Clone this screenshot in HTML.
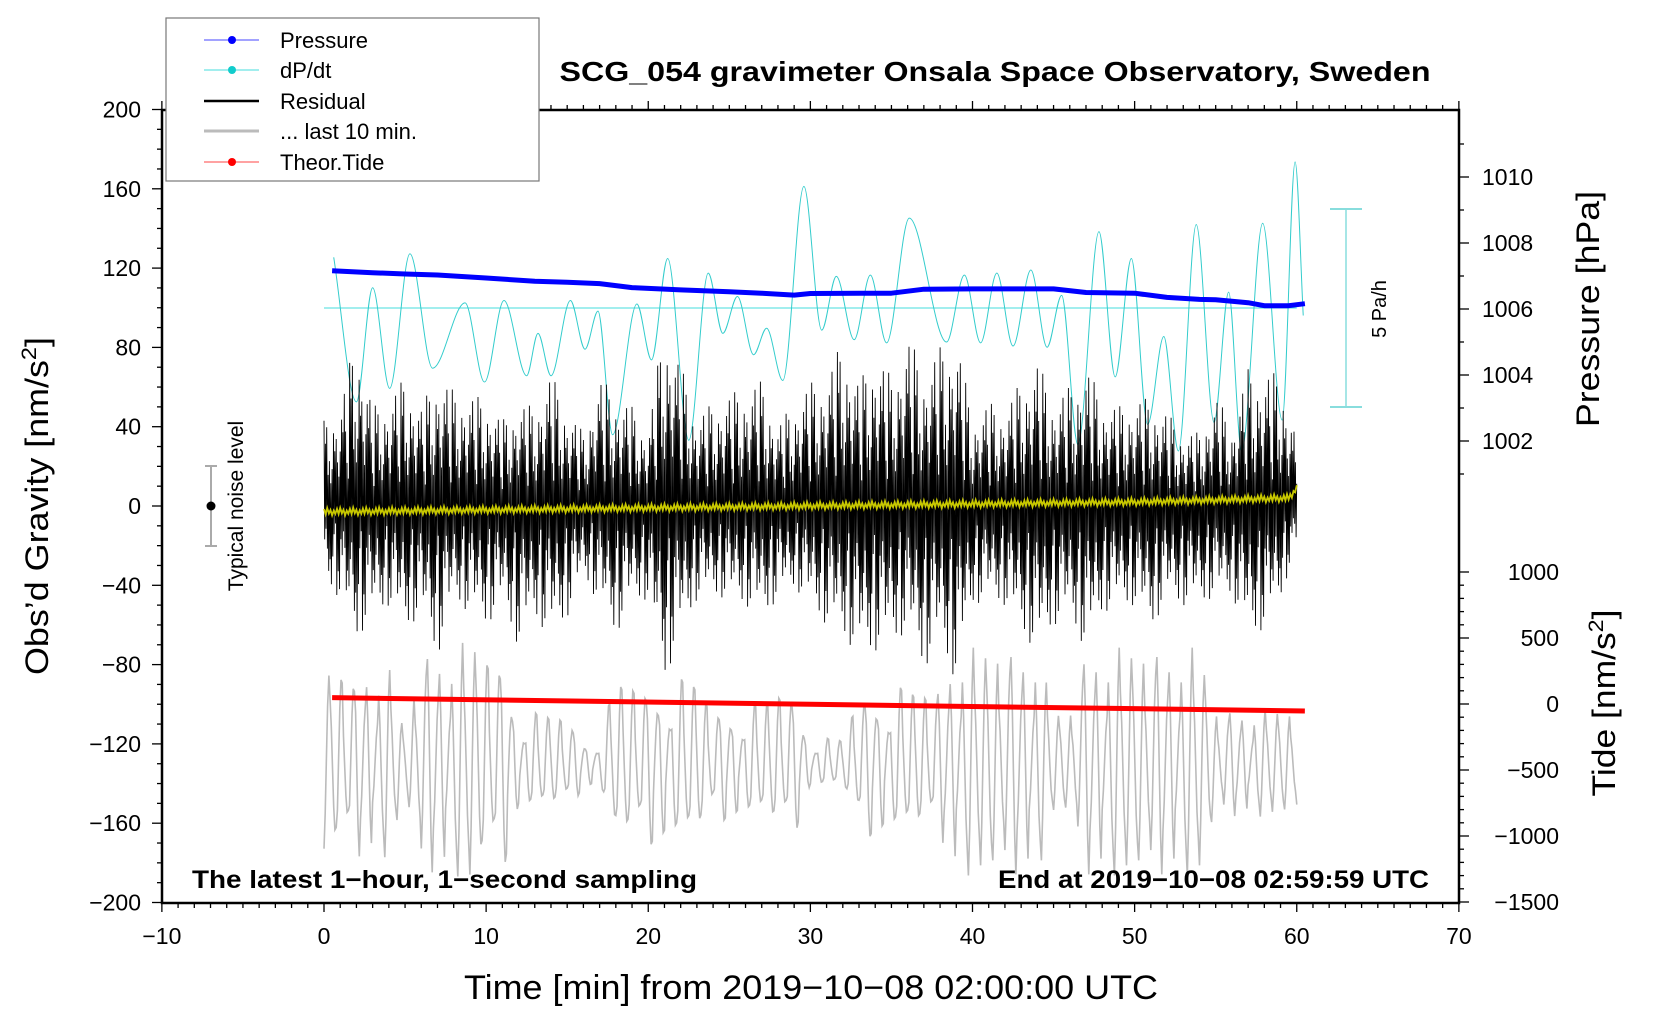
<!DOCTYPE html>
<html><head><meta charset="utf-8">
<style>
html,body{margin:0;padding:0;background:#fff;}
svg{display:block;font-family:"Liberation Sans",sans-serif;}
</style></head>
<body>
<svg id="chart" width="1660" height="1020" viewBox="0 0 1660 1020" xmlns="http://www.w3.org/2000/svg">
<rect width="1660" height="1020" fill="#fff"/>
<g id="marks"></g>
<g id="axes"></g>
<rect x="162" y="110" width="1297" height="793" fill="none" stroke="#000" stroke-width="2.5"/>
<text x="995" y="81" font-size="28" font-weight="bold" text-anchor="middle" textLength="871" lengthAdjust="spacingAndGlyphs">SCG_054 gravimeter Onsala Space Observatory, Sweden</text>
<text x="192" y="888" font-size="25" font-weight="bold" textLength="505" lengthAdjust="spacingAndGlyphs">The latest 1−hour, 1−second sampling</text>
<text x="1429" y="888" font-size="25" font-weight="bold" text-anchor="end" textLength="431" lengthAdjust="spacingAndGlyphs">End at 2019−10−08 02:59:59 UTC</text>
<text x="811" y="999" font-size="34" text-anchor="middle" textLength="694" lengthAdjust="spacingAndGlyphs">Time [min] from 2019−10−08 02:00:00 UTC</text>
<text transform="translate(48,506) rotate(-90)" font-size="32" text-anchor="middle" textLength="338" lengthAdjust="spacingAndGlyphs">Obs’d Gravity [nm/s<tspan dy="-12" font-size="21">2</tspan><tspan dy="12">]</tspan></text>
<text transform="translate(1599,309) rotate(-90)" font-size="32" text-anchor="middle" textLength="236" lengthAdjust="spacingAndGlyphs">Pressure [hPa]</text>
<text transform="translate(1615,703) rotate(-90)" font-size="32" text-anchor="middle" textLength="187" lengthAdjust="spacingAndGlyphs">Tide [nm/s<tspan dy="-12" font-size="21">2</tspan><tspan dy="12">]</tspan></text>
<g>
<line x1="211" y1="466" x2="211" y2="546" stroke="#aaa" stroke-width="2"/>
<line x1="205" y1="466" x2="217" y2="466" stroke="#aaa" stroke-width="2"/>
<line x1="205" y1="546" x2="217" y2="546" stroke="#aaa" stroke-width="2"/>
<circle cx="211" cy="506" r="4.5" fill="#000"/>
<text transform="translate(243,506) rotate(-90)" font-size="21" text-anchor="middle">Typical noise level</text>
</g>
<g>
<line x1="1346" y1="209" x2="1346" y2="407" stroke="#8dd" stroke-width="1.5"/>
<line x1="1330" y1="209" x2="1362" y2="209" stroke="#8dd" stroke-width="2"/>
<line x1="1330" y1="407" x2="1362" y2="407" stroke="#8dd" stroke-width="2"/>
<text transform="translate(1386,309) rotate(-90)" font-size="20" text-anchor="middle">5 Pa/h</text>
</g>
<g>
<rect x="166" y="18" width="373" height="163" fill="#fff" stroke="#777" stroke-width="1.2"/>
<g><line x1="204" y1="40" x2="259" y2="40" stroke="#44f" stroke-width="1"/><circle cx="232" cy="40" r="4" fill="#00f"/><text x="280" y="48" font-size="22">Pressure</text></g>
<g><line x1="204" y1="70" x2="259" y2="70" stroke="#4dd" stroke-width="1"/><circle cx="232" cy="70" r="4" fill="#1cc"/><text x="280" y="78" font-size="22">dP/dt</text></g>
<g><line x1="204" y1="101" x2="259" y2="101" stroke="#000" stroke-width="2.5"/><text x="280" y="109" font-size="22">Residual</text></g>
<g><line x1="204" y1="131" x2="259" y2="131" stroke="#bbb" stroke-width="3"/><text x="280" y="139" font-size="22">... last 10 min.</text></g>
<g><line x1="204" y1="162" x2="259" y2="162" stroke="#f44" stroke-width="1"/><circle cx="232" cy="162" r="4" fill="#f00"/><text x="280" y="170" font-size="22">Theor.Tide</text></g>
</g>
</svg>
<script>
// ---- data ----
const pressT = [0.5,3,5,7,10,13,15,17,19,22,25,27,29,30,33,35,37,40,45,47,50,52,54,55,57,58,59.5,60.5];
const pressV = [1007.16,1007.10,1007.06,1007.03,1006.94,1006.84,1006.81,1006.77,1006.65,1006.58,1006.52,1006.48,1006.42,1006.47,1006.48,1006.48,1006.60,1006.61,1006.61,1006.50,1006.48,1006.35,1006.29,1006.28,1006.19,1006.10,1006.10,1006.16];
const dpT = [0.6,2.0,3.0,4.05,5.3,6.7,8.7,9.9,11.1,12.5,13.2,14.0,15.2,16.1,16.9,17.8,19.3,20.2,21.2,22.5,23.7,24.6,25.5,26.5,27.3,28.3,29.6,30.7,31.6,32.7,33.7,34.7,36.1,38.4,39.5,40.5,41.5,42.5,43.6,44.6,45.5,46.5,47.8,48.8,49.8,50.8,51.8,52.7,53.8,54.9,55.8,56.6,57.9,59.1,59.9,60.4];
const dpV = [1.28,-2.37,0.51,-2.03,1.37,-1.52,0.13,-1.87,0.19,-1.71,-0.64,-1.71,0.19,-1.04,-0.08,-3.2,0.1,-1.31,1.25,-3.34,0.88,-0.64,0.29,-1.18,-0.51,-1.83,3.07,-0.56,0.8,-0.8,0.83,-0.88,2.27,-0.86,0.83,-0.88,0.88,-0.96,0.96,-0.99,0.32,-3.45,1.93,-1.74,1.25,-2.94,-0.72,-3.61,2.11,-2.89,0.4,-3.61,2.14,-2.83,3.69,-0.19];
const resHi = [43,50,88,50,54,65,50,67,58,56,54,43,52,50,67,49,37,65,56,50,37,95,71,45,52,56,60,63,41,52,62,65,84,62,78,65,86,69,80,86,45,52,49,63,73,54,60,71,54,50,54,54,47,37,37,56,41,69,67,67,34];
const resLo = [-37,-47,-67,-56,-50,-62,-55,-76,-47,-54,-60,-50,-71,-56,-67,-56,-35,-50,-65,-48,-47,-88,-65,-47,-45,-47,-50,-56,-47,-41,-50,-60,-65,-76,-73,-69,-63,-82,-69,-89,-50,-47,-50,-63,-74,-60,-56,-73,-54,-50,-50,-62,-47,-50,-50,-45,-45,-65,-62,-47,-19];
const grayAmp = [46,46,46,46,46,15,54,54,54,60,54,54,24,24,24,24,12,12,40,40,40,40,40,40,28,28,28,28,36,36,12,12,12,36,36,36,36,36,36,55,55,55,55,55,55,25,25,55,55,55,55,55,55,55,55,26,26,26,26,26,26];
const grayCenter = -130;
const yellowT = [0,5,10,15,20,25,30,35,40,45,50,55,59.5,60];
const yellowV = [-3,-2.5,-2,-1.5,-1,-0.5,0,0.5,1,1.5,2,3,4,9];
const tideT = [0.5,30,60.5];
const tideV = [48,-2,-53];
const xTicks = [-10,0,10,20,30,40,50,60,70];
const yTicks = [200,160,120,80,40,0,-40,-80,-120,-160,-200];
const pTicks = [1002,1004,1006,1008,1010];
const tideTicks = [1000,500,0,-500,-1000,-1500];

// ---- scales ----
const X = t => 324 + t*16.2125;
const Y = v => 506 - v*1.9825;
const P = h => 309 - (h-1006)*33;
const D = v => 308 - v*39.6;
const T = v => 704 - v*0.132;
const NS = "http://www.w3.org/2000/svg";
const marks = document.getElementById('marks');
const axes = document.getElementById('axes');
function mk(tag, attrs, parent){ const e=document.createElementNS(NS,tag); for(const k in attrs) e.setAttribute(k,attrs[k]); parent.appendChild(e); return e; }
function lin(xs, ys, x){ if(x<=xs[0]) return ys[0]; for(let i=1;i<xs.length;i++){ if(x<=xs[i]){ const f=(x-xs[i-1])/(xs[i]-xs[i-1]); return ys[i-1]+f*(ys[i]-ys[i-1]); } } return ys[ys.length-1]; }

// grey last-10-min trace
{
  const g=[1,0.75,0.95,0.55,0.85,1.05,0.65,0.9,0.45,0.8,1.1,0.7];
  let d=''; const step=0.75/10;
  for(let t=0;t<=60.0001;t+=step){ const a=lin(grayAmp.map((_,i)=>i),grayAmp,t); const cyc=Math.floor(t/0.375); const v=grayCenter+a*g[cyc%g.length]*Math.sin(2*Math.PI*t/0.75 - 1.2); d+=(d?'L':'M')+X(t).toFixed(1)+','+Y(v).toFixed(1); }
  const p=mk('path',{d:d,fill:'none',stroke:'#bbb','stroke-width':1.6},marks);
  
  
}
// theoretical tide
{
  let d=''; tideT.forEach((t,i)=>{ d+=(i?'L':'M')+X(t)+','+T(tideV[i]); });
  const p=mk('path',{d:d,fill:'none',stroke:'#f00','stroke-width':5},marks);
  
  
}
// dP/dt zero baseline
{
  const l=mk('line',{x1:X(0),x2:X(60),y1:D(0),y2:D(0),stroke:'#4dd','stroke-width':1},marks);
  
  
}
// dP/dt smooth curve
{
  const n=dpT.length, m=new Array(n).fill(0);
  const dl=[]; for(let i=0;i<n-1;i++) dl.push((dpV[i+1]-dpV[i])/(dpT[i+1]-dpT[i]));
  for(let i=1;i<n-1;i++){ m[i] = (dl[i-1]*dl[i]<=0)?0:(dl[i-1]+dl[i])/2; }
  m[0]=dl[0]; m[n-1]=dl[n-2];
  let d='M'+X(dpT[0])+','+D(dpV[0]);
  for(let i=0;i<n-1;i++){ const h=dpT[i+1]-dpT[i];
    d+='C'+X(dpT[i]+h/3)+','+D(dpV[i]+m[i]*h/3)+' '+X(dpT[i+1]-h/3)+','+D(dpV[i+1]-m[i+1]*h/3)+' '+X(dpT[i+1])+','+D(dpV[i+1]); }
  const p=mk('path',{d:d,fill:'none',stroke:'#3cc','stroke-width':1},marks);
  
  
}
// residual
{
  const f=[1,.45,.72,.3,.9,.55,.35,.82,.5,.66,.25,.95,.4,.6,.78,.33,.58,.2,.7];
  const mins=resHi.map((_,i)=>i); let d=''; let k=0; const per=24;
  for(let t=0;t<=60.0001;t+=1/per){ const hi=lin(mins,resHi,t), lo=lin(mins,resLo,t); const v=(k%2===0?hi:lo)*f[k%f.length]; d+=(d?'L':'M')+X(t).toFixed(1)+','+Y(v).toFixed(1); k++; }
  const p=mk('path',{d:d,fill:'none',stroke:'#000','stroke-width':0.9},marks);
  
  
}
// yellow smoothed residual
{
  const w=[1.5,-1.2,2,-0.8,1,-1.8,0.6,-1.1]; let d=''; let k=0;
  for(let t=0;t<=60.0001;t+=0.1){ const v=lin(yellowT,yellowV,t)+w[k%w.length]; d+=(d?'L':'M')+X(t).toFixed(1)+','+Y(v).toFixed(1); k++; }
  const p=mk('path',{d:d,fill:'none',stroke:'#c8c800','stroke-width':1.8},marks);
  
  
}
// pressure
{
  let d=''; pressT.forEach((t,i)=>{ d+=(i?'L':'M')+X(t).toFixed(1)+','+P(pressV[i]).toFixed(1); });
  const p=mk('path',{d:d,fill:'none',stroke:'#00f','stroke-width':5,'stroke-linejoin':'round'},marks);
  
  
}

// ---- axes ----
for(let t=-10;t<=70;t++){
  const major = t%10===0, x=X(t), L=major?9:5;
  mk('line',{x1:x,x2:x,y1:903,y2:903+L,stroke:'#000','stroke-width':1.3},axes);
  mk('line',{x1:x,x2:x,y1:110,y2:110-L,stroke:'#000','stroke-width':1.3},axes);
}
xTicks.forEach(t=>{
  const e=mk('text',{x:X(t),y:944,'font-size':23,'text-anchor':'middle'},axes);
  e.textContent=String(t).replace('-','−');
  
  
});
for(let v=-200;v<=200;v+=10){
  const major=v%40===0, y=Y(v);
  mk('line',{x1:162,x2:162-(major?10:5),y1:y,y2:y,stroke:'#000','stroke-width':1.3},axes);
}
yTicks.forEach(v=>{
  const e=mk('text',{x:141,y:Y(v)+8,'font-size':23,'text-anchor':'end'},axes);
  e.textContent=String(v).replace('-','−');
  
  
});
for(let h=1001;h<=1011;h++){
  const major=h%2===0, y=P(h);
  mk('line',{x1:1459,x2:1459+(major?10:5),y1:y,y2:y,stroke:'#000','stroke-width':1.3},axes);
}
pTicks.forEach(h=>{
  const e=mk('text',{x:1482,y:P(h)+8,'font-size':23},axes);
  e.textContent=String(h);
  
  
});
for(let v=-1500;v<=1000;v+=100){
  const major=v%500===0, y=T(v);
  mk('line',{x1:1459,x2:1459+(major?10:5),y1:y,y2:y,stroke:'#000','stroke-width':1.3},axes);
}
tideTicks.forEach(v=>{
  const e=mk('text',{x:1559,y:T(v)+8,'font-size':23,'text-anchor':'end'},axes);
  e.textContent=String(v).replace('-','−');
  
  
});
</script>
</body></html>
